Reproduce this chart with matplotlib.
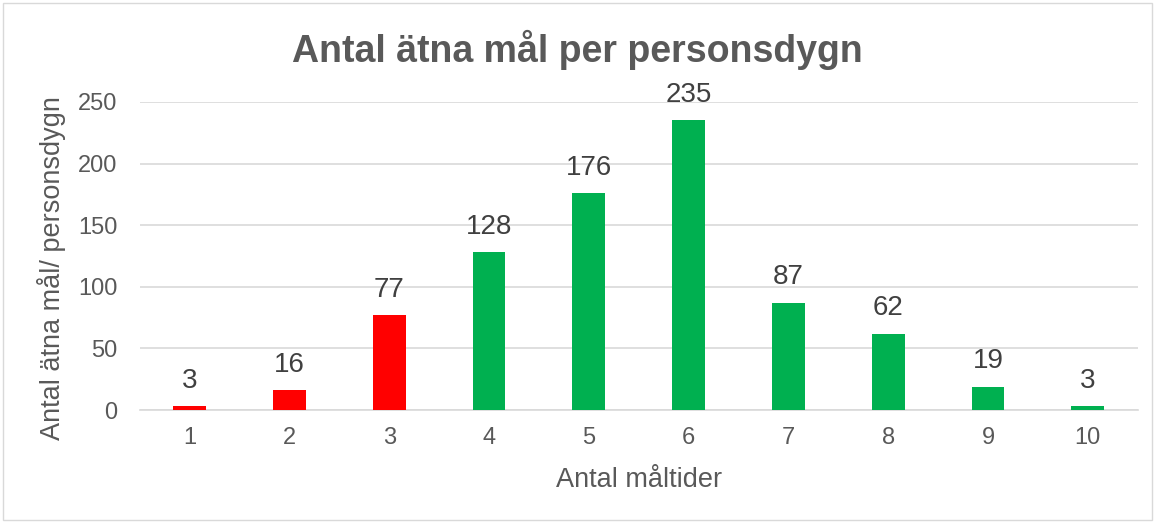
import matplotlib
matplotlib.use('Agg')
import matplotlib.pyplot as plt
from matplotlib.patches import Rectangle

# 数据
categories = ['1', '2', '3', '4', '5', '6', '7', '8', '9', '10']
values = [3, 16, 77, 128, 176, 235, 87, 62, 19, 3]
bar_colors = ['#FF0000'] * 3 + ['#00B050'] * 7
y_ticks = [0, 50, 100, 150, 200, 250]

plt.rcParams['font.family'] = ['Liberation Sans', 'DejaVu Sans']
text_color = '#595959'

fig = plt.figure(figsize=(11.55, 5.23), dpi=100)
ax = fig.add_axes([0.121, 0.216, 0.864, 0.589])

x = list(range(len(categories)))
ax.bar(x, values, width=0.33, color=bar_colors, zorder=3)

# 数据标签
for xi, v in zip(x, values):
    ax.annotate(str(v), (xi, v), xytext=(0, 9), textcoords='offset points',
                ha='center', va='bottom', fontsize=20, color='#404040')

ax.set_xlim(-0.5, len(categories) - 0.5)
ax.set_ylim(0, 250)
ax.set_yticks(y_ticks)
ax.set_xticks(x)
ax.set_xticklabels(categories)
ax.tick_params(axis='both', length=0, labelsize=17, colors=text_color)
ax.tick_params(axis='y', pad=16)
ax.tick_params(axis='x', pad=12)
ax.grid(axis='y', color='#D9D9D9', linewidth=1.2, zorder=0)
for side in ['top', 'right', 'left']:
    ax.spines[side].set_visible(False)
ax.spines['bottom'].set_color('#D9D9D9')
ax.spines['bottom'].set_linewidth(1.2)

ax.set_xlabel('Antal måltider', fontsize=19.5, color=text_color)
ax.set_ylabel('Antal ätna mål/ personsdygn', fontsize=19.5, color=text_color)
ax.xaxis.set_label_coords(0.5, -0.185, transform=ax.transAxes)
ax.yaxis.set_label_coords(66 / 1155, 0.488, transform=fig.transFigure)
fig.text(0.5, 0.905, 'Antal ätna mål per personsdygn', ha='center', va='center',
         fontsize=27, fontweight='bold', color=text_color)

# 外框
fig.patches.append(Rectangle((0.003, 0.005), 0.994, 0.99, transform=fig.transFigure,
                             fill=False, edgecolor='#D9D9D9', linewidth=1))

plt.savefig('out.png', dpi=100)
plt.close()
